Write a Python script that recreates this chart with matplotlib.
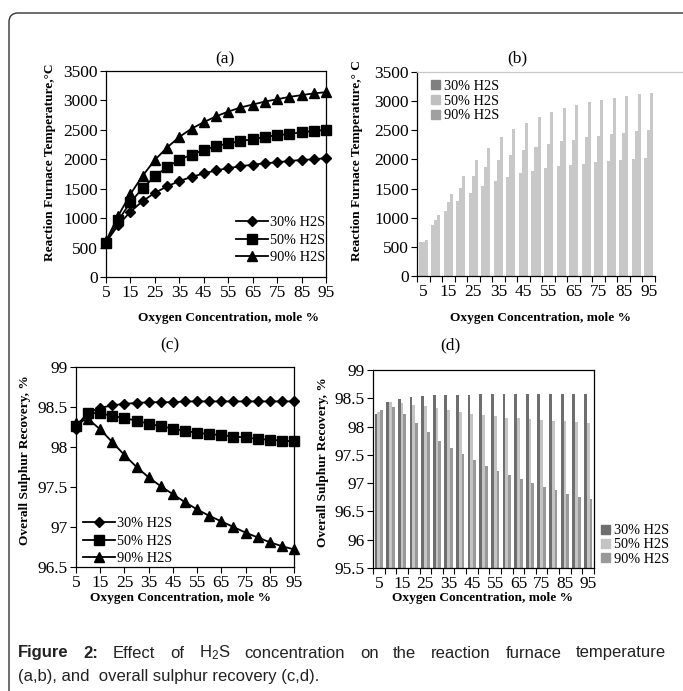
import numpy as np
import matplotlib
matplotlib.use("Agg")
import matplotlib.pyplot as plt
from matplotlib.patches import FancyBboxPatch, Patch
from matplotlib.lines import Line2D
from matplotlib.transforms import IdentityTransform

plt.rcParams['font.family'] = ['Liberation Serif', 'DejaVu Serif']
plt.rcParams['mathtext.fontset'] = 'custom'
plt.rcParams['mathtext.rm'] = 'Liberation Sans'
plt.rcParams['mathtext.it'] = 'Liberation Sans'

# data
oxygen = [5, 10, 15, 20, 25, 30, 35, 40, 45, 50, 55, 60, 65, 70, 75, 80, 85, 90, 95]
series_names = ["30% H2S", "50% H2S", "90% H2S"]

temp_30 = [590, 880, 1110, 1290, 1430, 1540, 1630, 1700, 1760, 1810,
           1850, 1880, 1910, 1930, 1950, 1970, 1990, 2000, 2020]
temp_50 = [580, 960, 1270, 1510, 1710, 1870, 1990, 2080, 2160, 2220,
           2270, 2310, 2340, 2380, 2410, 2430, 2460, 2480, 2500]
temp_90 = [610, 1040, 1410, 1720, 1990, 2200, 2380, 2520, 2630, 2730,
           2810, 2880, 2930, 2980, 3020, 3060, 3090, 3120, 3140]

rec_30 = [98.22, 98.43, 98.49, 98.52, 98.54, 98.55, 98.56, 98.56, 98.56, 98.57,
          98.57, 98.57, 98.57, 98.57, 98.57, 98.57, 98.57, 98.57, 98.57]
rec_50 = [98.26, 98.43, 98.42, 98.39, 98.36, 98.33, 98.29, 98.26, 98.23, 98.20,
          98.18, 98.16, 98.15, 98.13, 98.12, 98.10, 98.09, 98.08, 98.07]
rec_90 = [98.30, 98.35, 98.22, 98.06, 97.90, 97.75, 97.62, 97.51, 97.41, 97.31,
          97.22, 97.14, 97.07, 97.00, 96.93, 96.87, 96.81, 96.76, 96.72]

temp_ticks = [0, 500, 1000, 1500, 2000, 2500, 3000, 3500]
rec_ticks_c = [96.5, 97, 97.5, 98, 98.5, 99]
rec_ticks_d = [95.5, 96, 96.5, 97, 97.5, 98, 98.5, 99]
x_labels = [5, 15, 25, 35, 45, 55, 65, 75, 85, 95]

W, H = 683, 691
fig = plt.figure(figsize=(W / 100, H / 100), dpi=100)
fig.patch.set_facecolor("white")


def rect(l, t, r, b):
    return [l / W, 1 - b / H, (r - l) / W, (b - t) / H]


def fx(x):
    return x / W


def fy(y):
    return 1 - y / H


TICK_FS = 12.5
LAB_FS = 9.6
LEG_FS = 10.3
TITLE_FS = 12.5


def style_axes(ax):
    ax.tick_params(direction="out", length=4, width=0.8, labelsize=TICK_FS, pad=2)
    for s in ax.spines.values():
        s.set_linewidth(0.9)


markers = ["D", "s", "^"]
msizes = [5, 7.5, 7.5]

# (a) temperature, lines
ax_a = fig.add_axes(rect(106, 71, 326, 277))
for vals, m, ms, name in zip([temp_30, temp_50, temp_90], markers, msizes, series_names):
    ax_a.plot(oxygen, vals, color="black", lw=1.3, marker=m, ms=ms, label=name, clip_on=False)
ax_a.set_xlim(5, 95)
ax_a.set_ylim(0, 3500)
ax_a.set_yticks(temp_ticks)
ax_a.set_xticks(x_labels)
style_axes(ax_a)
ax_a.legend(loc="center left", bbox_to_anchor=(fx(229), fy(240)), bbox_transform=fig.transFigure,
            frameon=False, fontsize=LEG_FS, handlelength=2.2, handletextpad=0.2,
            labelspacing=0.3, borderpad=0)
fig.text(fx(225), fy(59), "(a)", ha="center", va="center", fontsize=TITLE_FS)
fig.text(fx(50), fy(162), "Reaction Furnace Temperature,°C", rotation=90, ha="center",
         va="center", fontsize=LAB_FS, fontweight="bold")
fig.text(fx(228), fy(318), "Oxygen Concentration, mole %", ha="center", va="center",
         fontsize=LAB_FS, fontweight="bold")

# (b) temperature, bars
idx = np.arange(len(oxygen))
bw = 0.24
ax_b = fig.add_axes(rect(417, 72, 655, 276))
for k, vals in enumerate([temp_30, temp_50, temp_90]):
    ax_b.bar(idx + (k - 1) * bw, vals, width=bw, color="#c8c8c8", linewidth=0)
ax_b.set_xlim(-0.5, len(oxygen) - 0.5)
ax_b.set_ylim(0, 3500)
ax_b.set_yticks(temp_ticks)
ax_b.set_xticks(idx[::2])
ax_b.set_xticklabels(x_labels)
ax_b.set_xticks(np.arange(-0.5, len(oxygen)), minor=True)
style_axes(ax_b)
ax_b.tick_params(axis="x", which="major", length=0, pad=6)
ax_b.tick_params(axis="x", which="minor", length=4, width=0.8, direction="out")
ax_b.spines["top"].set_visible(False)
ax_b.spines["right"].set_visible(False)
fig.add_artist(Line2D([fx(417), fx(683)], [fy(72), fy(72)], color="#c8c8c8", lw=0.9,
                      transform=fig.transFigure))
leg_b = [Patch(color=c) for c in ["#808080", "#c0c0c0", "#a0a0a0"]]
ax_b.legend(leg_b, series_names, loc="center left", bbox_to_anchor=(fx(424), fy(101)),
            bbox_transform=fig.transFigure, frameon=False, fontsize=LEG_FS,
            handlelength=0.6, handleheight=0.6, handletextpad=0.3, labelspacing=0.12,
            borderpad=0)
fig.text(fx(517), fy(58), "(b)", ha="center", va="center", fontsize=TITLE_FS)
fig.text(fx(357), fy(161), "Reaction Furnace Temperature,° C", rotation=90, ha="center",
         va="center", fontsize=LAB_FS, fontweight="bold")
fig.text(fx(540), fy(318), "Oxygen Concentration, mole %", ha="center", va="center",
         fontsize=LAB_FS, fontweight="bold")

# (c) recovery, lines
ax_c = fig.add_axes(rect(76, 367, 294, 567))
for vals, m, ms, name in zip([rec_30, rec_50, rec_90], markers, msizes, series_names):
    ax_c.plot(oxygen, vals, color="black", lw=1.3, marker=m, ms=ms, label=name, clip_on=False)
ax_c.set_xlim(5, 95)
ax_c.set_ylim(96.5, 99)
ax_c.set_yticks(rec_ticks_c)
ax_c.set_yticklabels(["%g" % v for v in rec_ticks_c])
ax_c.set_xticks(x_labels)
style_axes(ax_c)
ax_c.legend(loc="center left", bbox_to_anchor=(fx(76), fy(541)), bbox_transform=fig.transFigure,
            frameon=False, fontsize=LEG_FS, handlelength=2.2, handletextpad=0.2,
            labelspacing=0.3, borderpad=0)
fig.text(fx(170), fy(345), "(c)", ha="center", va="center", fontsize=TITLE_FS)
fig.text(fx(25), fy(460), "Overall Sulphur Recovery, %", rotation=90, ha="center",
         va="center", fontsize=LAB_FS, fontweight="bold")
fig.text(fx(180), fy(598), "Oxygen Concentration, mole %", ha="center", va="center",
         fontsize=LAB_FS, fontweight="bold")

# (d) recovery, bars
ax_d = fig.add_axes(rect(373, 370, 594, 568))
d_colors = ["#6e6e6e", "#c4c4c4", "#999999"]
for k, (vals, c) in enumerate(zip([rec_30, rec_50, rec_90], d_colors)):
    ax_d.bar(idx + (k - 1) * bw, np.array(vals) - 95.5, bottom=95.5, width=bw, color=c,
             linewidth=0)
ax_d.set_xlim(-0.5, len(oxygen) - 0.5)
ax_d.set_ylim(95.5, 99)
ax_d.set_yticks(rec_ticks_d)
ax_d.set_yticklabels(["%g" % v for v in rec_ticks_d])
ax_d.set_xticks(idx[::2])
ax_d.set_xticklabels(x_labels)
ax_d.set_xticks(np.arange(-0.5, len(oxygen)), minor=True)
style_axes(ax_d)
ax_d.tick_params(axis="x", which="major", length=0, pad=6)
ax_d.tick_params(axis="x", which="minor", length=4, width=0.8, direction="out")
leg_d = [Patch(color=c) for c in d_colors]
ax_d.legend(leg_d, series_names, loc="center left", bbox_to_anchor=(fx(594), fy(545)),
            bbox_transform=fig.transFigure, frameon=False, fontsize=LEG_FS,
            handlelength=0.6, handleheight=0.6, handletextpad=0.3, labelspacing=0.08,
            borderpad=0)
fig.text(fx(450), fy(345), "(d)", ha="center", va="center", fontsize=TITLE_FS)
fig.text(fx(323), fy(462), "Overall Sulphur Recovery, %", rotation=90, ha="center",
         va="center", fontsize=LAB_FS, fontweight="bold")
fig.text(fx(483), fy(598), "Oxygen Concentration, mole %", ha="center", va="center",
         fontsize=LAB_FS, fontweight="bold")

# outer frame
frame = FancyBboxPatch((9, -40), 720, H - 13 + 40, boxstyle="round,pad=0,rounding_size=9",
                       transform=IdentityTransform(), facecolor="none", edgecolor="#333333",
                       lw=1.0, clip_on=False)
fig.add_artist(frame)

# caption, first line justified word by word
cap_fs = 12
words = [("Figure", "bold"), ("2:", "bold"), ("Effect", "normal"), ("of", "normal"),
         ("H$_\\mathregular{2}$S", "normal"), ("concentration", "normal"), ("on", "normal"),
         ("the", "normal"), ("reaction", "normal"), ("furnace", "normal"),
         ("temperature", "normal")]
renderer = fig.canvas.get_renderer()
arts = []
for w, wt in words:
    t = fig.text(0, fy(653), w, fontsize=cap_fs, fontweight=wt, family="Liberation Sans",
                 color="#222222", va="center", ha="left")
    arts.append(t)
widths = [a.get_window_extent(renderer).width for a in arts]
x0, x1 = 18, 666
gap = (x1 - x0 - sum(widths)) / (len(arts) - 1)
x = x0
for a, wd in zip(arts, widths):
    a.set_x(fx(x))
    x += wd + gap
fig.text(fx(18), fy(676), "(a,b), and  overall sulphur recovery (c,d).", fontsize=cap_fs,
         family="Liberation Sans", color="#222222", va="center", ha="left")

fig.savefig("out.png", dpi=100)
